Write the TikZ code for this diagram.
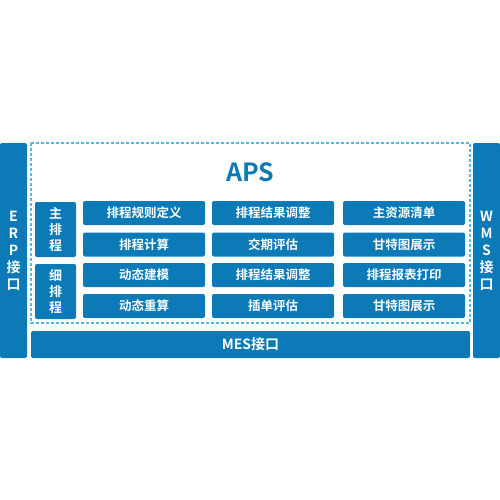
\documentclass[tikz,border=0pt]{standalone}
\usepackage{fontspec}
\setmainfont{Noto Sans CJK SC}[BoldFont={Noto Sans CJK SC Bold}]
\usetikzlibrary{calc}
\definecolor{apsblue}{RGB}{11,122,183}
\definecolor{dashblue}{RGB}{80,185,235}
\tikzset{
  blk/.style={fill=apsblue, rounded corners=2pt, text=white, font=\bfseries\fontsize{12.5}{14}\selectfont, inner sep=0pt},
  cell/.style={blk, minimum width=122, minimum height=24},
  side/.style={blk, align=center, font=\bfseries\fontsize{13}{16}\selectfont}
}
\begin{document}
\begin{tikzpicture}[x=1pt, y=-1pt]
	    \useasboundingbox (0,0) rectangle (500,500);
	    \draw[dashblue, dash pattern=on 3pt off 2pt, line width=1.1pt] (31,143) rectangle (470,323);
	    \node[side, minimum width=27, minimum height=215, font=\bfseries\fontsize{14}{17}\selectfont] (erp) at (13.5,250.5) {E\\R\\P\\接\\口};
	    \node[side, minimum width=27, minimum height=215, font=\bfseries\fontsize{14}{17}\selectfont] (wms) at (486.5,250.5) {W\\M\\S\\接\\口};
	    \node[blk, minimum width=439, minimum height=27, font=\bfseries\fontsize{14}{16}\selectfont] (mes) at (250.5,344.5) {MES接口};
	    \node[text=apsblue, font=\bfseries\fontsize{25}{28}\selectfont] (aps) at (250,172) {APS};
	    \node[side, minimum width=41, minimum height=55] (main) at (55.5,229.5) {主\\排\\程};
	    \node[side, minimum width=41, minimum height=55] (fine) at (55.5,291.5) {细\\排\\程};
	    % main scheduling
	    \node[cell] (rule) at (144,213) {排程规则定义};
	    \node[cell] (adjA) at (273,213) {排程结果调整};
	    \node[cell] (bom) at (404,213) {主资源清单};
	    \node[cell] (calc) at (144,244.5) {排程计算};
	    \node[cell] (due) at (273,244.5) {交期评估};
	    \node[cell] (ganttA) at (404,244.5) {甘特图展示};
	    % fine scheduling
	    \node[cell] (model) at (144,275) {动态建模};
	    \node[cell] (adjB) at (273,275) {排程结果调整};
	    \node[cell] (print) at (404,275) {排程报表打印};
	    \node[cell] (recalc) at (144,306) {动态重算};
	    \node[cell] (insert) at (273,306) {插单评估};
	    \node[cell] (ganttB) at (404,306) {甘特图展示};
\end{tikzpicture}
\end{document}
